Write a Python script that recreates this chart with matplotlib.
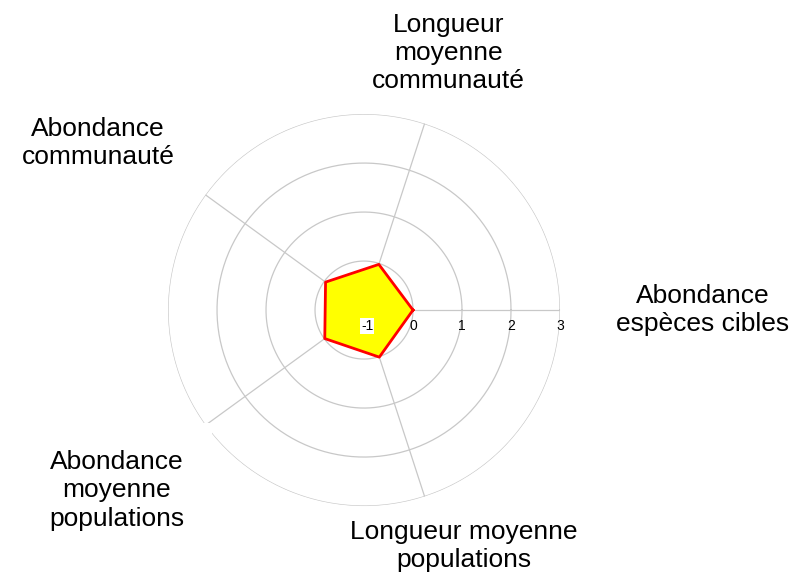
import numpy as np
import matplotlib
matplotlib.use("Agg")
import matplotlib.pyplot as plt

plt.rcParams['font.family'] = ['Liberation Sans', 'DejaVu Sans']

# indicateurs (sens trigo, depart a droite)
indicateurs = ["Abondance\nespèces cibles",
               "Longueur\nmoyenne\ncommunauté",
               "Abondance\ncommunauté",
               "Abondance\nmoyenne\npopulations",
               "Longueur moyenne\npopulations"]
valeurs = [0.0, -0.02, -0.03, -0.01, 0.01]
niveaux = [0, 1, 2, 3]
graduations = [-1, 0, 1, 2, 3]

# placement des etiquettes (angle en degres, rayon, marge du fond blanc)
pos_etiquettes = [(0, 5.91, 8), (71.8, 4.52, 8), (147.8, 5.41, 17),
                  (216.1, 5.25, 20), (292.9, 4.23, 6)]

fig = plt.figure(figsize=(8.1, 5.81), dpi=100)
ax = fig.add_axes([0.2074, 0.129, 0.484, 0.6747], projection='polar')
ax.set_ylim(-1, 3)
ax.axis('off')

n = len(indicateurs)
angles = np.arange(n) * 2 * np.pi / n
grid_col = '#c8c8c8'

t = np.linspace(0, 2 * np.pi, 400)
for niv in niveaux:
    ax.plot(t, np.full_like(t, niv), color=grid_col, lw=0.9, zorder=1)
for a in angles:
    ax.plot([a, a], [-1, 3], color=grid_col, lw=0.9, zorder=1)

ang_c = np.append(angles, angles[0])
val_c = np.append(valeurs, valeurs[0])
ax.fill(ang_c, val_c, color='#ffff00', zorder=2)
ax.plot(ang_c, val_c, color='#ff0000', lw=2, zorder=3)

for g in graduations:
    dx = 3 if g == -1 else 0
    ax.annotate(str(g), xy=(0, g), xytext=(dx, -16), textcoords='offset pixels',
                ha='center', va='center', fontsize=10, zorder=4,
                bbox=dict(facecolor='white', edgecolor='none', pad=0.5) if g == -1 else None)

for lab, (deg, r, pad) in zip(indicateurs, pos_etiquettes):
    ax.text(np.deg2rad(deg), r, lab, ha='center', va='center', fontsize=19,
            linespacing=1.22, clip_on=False, zorder=5,
            bbox=dict(facecolor='white', edgecolor='none', pad=pad))

fig.savefig('out.png', dpi=100, facecolor='white')
